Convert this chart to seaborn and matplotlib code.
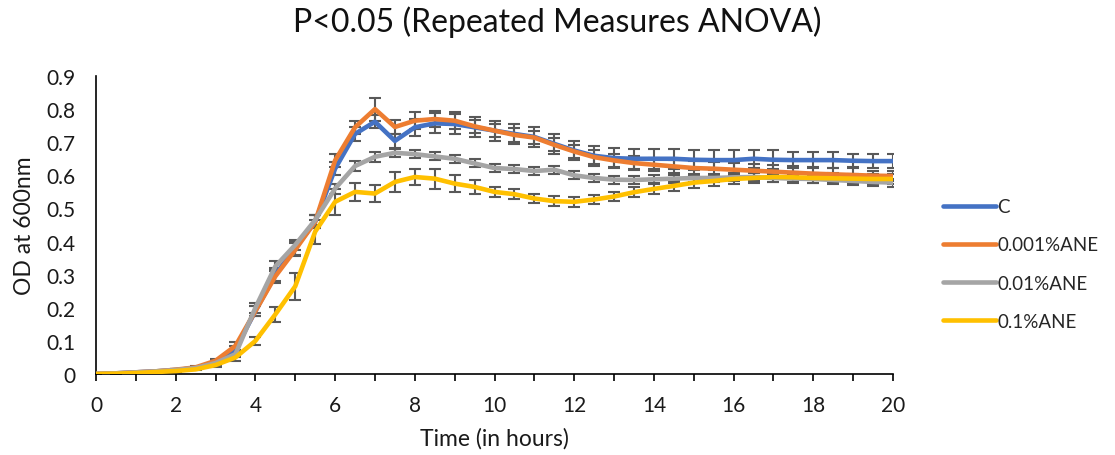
import numpy as np
import pandas as pd
import seaborn as sns
import matplotlib
matplotlib.use("Agg")
import matplotlib.pyplot as plt

hours = [i * 0.5 for i in range(41)]

od_c = [0, 0.002, 0.005, 0.008, 0.012, 0.018, 0.035, 0.075, 0.19, 0.30, 0.38, 0.46, 0.62, 0.725, 0.762,
        0.704, 0.745, 0.757, 0.755, 0.745, 0.735, 0.725, 0.716, 0.695, 0.675, 0.659, 0.652, 0.65, 0.65,
        0.65, 0.647, 0.646, 0.646, 0.65, 0.647, 0.646, 0.646, 0.646, 0.644, 0.643, 0.643]
od_001 = [0, 0.002, 0.005, 0.008, 0.013, 0.02, 0.04, 0.085, 0.19, 0.295, 0.375, 0.46, 0.645, 0.745, 0.80,
          0.746, 0.765, 0.77, 0.765, 0.748, 0.735, 0.722, 0.714, 0.692, 0.672, 0.655, 0.645, 0.637, 0.632,
          0.627, 0.622, 0.62, 0.617, 0.614, 0.611, 0.608, 0.605, 0.603, 0.601, 0.599, 0.598]
od_01 = [0, 0.002, 0.005, 0.008, 0.012, 0.018, 0.033, 0.06, 0.20, 0.325, 0.39, 0.465, 0.56, 0.628, 0.656,
         0.668, 0.664, 0.657, 0.65, 0.636, 0.622, 0.619, 0.613, 0.617, 0.60, 0.592, 0.587, 0.586, 0.588,
         0.59, 0.592, 0.592, 0.594, 0.595, 0.592, 0.59, 0.589, 0.586, 0.583, 0.58, 0.578]
od_1 = [0, 0.001, 0.003, 0.006, 0.009, 0.014, 0.027, 0.05, 0.10, 0.18, 0.265, 0.43, 0.52, 0.55, 0.545,
        0.58, 0.595, 0.59, 0.575, 0.565, 0.55, 0.543, 0.53, 0.522, 0.52, 0.527, 0.536, 0.549, 0.559,
        0.568, 0.578, 0.583, 0.589, 0.592, 0.595, 0.594, 0.592, 0.591, 0.59, 0.589, 0.589]

err_c = [0, 0, 0, 0, 0.002, 0.003, 0.005, 0.01, 0.015, 0.02, 0.02, 0.02, 0.02, 0.02, 0.02,
         0.02, 0.025, 0.03, 0.03, 0.03, 0.03, 0.03, 0.03, 0.03, 0.03, 0.03, 0.03, 0.03, 0.03,
         0.03, 0.03, 0.03, 0.03, 0.028, 0.028, 0.025, 0.025, 0.025, 0.02, 0.02, 0.02]
err_001 = [0, 0, 0, 0, 0.002, 0.003, 0.005, 0.012, 0.015, 0.02, 0.02, 0.02, 0.02, 0.02, 0.035,
           0.02, 0.025, 0.025, 0.025, 0.02, 0.02, 0.02, 0.02, 0.02, 0.02, 0.02, 0.02, 0.02, 0.02,
           0.02, 0.02, 0.02, 0.02, 0.02, 0.02, 0.02, 0.02, 0.02, 0.02, 0.015, 0.015]
err_01 = [0, 0, 0, 0, 0.002, 0.003, 0.005, 0.01, 0.015, 0.015, 0.015, 0.015, 0.015, 0.015, 0.015,
          0.012, 0.012, 0.012, 0.012, 0.012, 0.012, 0.012, 0.012, 0.012, 0.012, 0.012, 0.012, 0.012, 0.012,
          0.012, 0.012, 0.012, 0.012, 0.012, 0.012, 0.012, 0.012, 0.012, 0.012, 0.012, 0.012]
err_1 = [0, 0, 0, 0, 0.002, 0.003, 0.005, 0.01, 0.012, 0.023, 0.04, 0.036, 0.04, 0.028, 0.026,
         0.03, 0.025, 0.03, 0.025, 0.02, 0.015, 0.015, 0.015, 0.015, 0.015, 0.015, 0.015, 0.015, 0.015,
         0.015, 0.015, 0.015, 0.015, 0.015, 0.015, 0.015, 0.015, 0.015, 0.015, 0.015, 0.015]

series = ["C", "0.001%ANE", "0.01%ANE", "0.1%ANE"]
colors = ["#4472C4", "#ED7D31", "#A5A5A5", "#FFC000"]

df = pd.DataFrame({
    "Time": hours * 4,
    "OD": od_c + od_001 + od_01 + od_1,
    "Err": err_c + err_001 + err_01 + err_1,
    "Group": [s for s in series for _ in hours],
})

sns.set_theme(style="white")
plt.rcParams["font.family"] = ["Lato", "DejaVu Sans"]

fig = plt.figure(figsize=(11.15, 4.56), dpi=100)
ax = fig.add_axes([96 / 1115, 1 - 375 / 456, (893 - 96) / 1115, (375 - 77) / 456])

for s in series:
    sub = df[df["Group"] == s]
    ax.errorbar(sub["Time"], sub["OD"], yerr=sub["Err"], fmt="none", ecolor="#595959",
                elinewidth=1.5, capsize=4, capthick=1.5, zorder=2)

sns.lineplot(data=df, x="Time", y="OD", hue="Group", hue_order=series,
             palette=colors, linewidth=3.3, ax=ax, zorder=3, errorbar=None)

ax.set_xlim(0, 20)
ax.set_ylim(0, 0.9)
ax.set_xticks(range(0, 21, 2))
ax.set_xticks(range(1, 21, 2), minor=True)
ax.set_yticks([i / 10 for i in range(10)])
ax.set_yticklabels(["0"] + [f"{i / 10:.1f}" for i in range(1, 10)])
ax.tick_params(axis="x", which="both", direction="out", length=5, width=1.2, colors="black",
               labelsize=15, labelcolor="#1a1a1a", bottom=True, pad=10)
ax.tick_params(axis="y", length=0, labelsize=15, labelcolor="#1a1a1a", pad=15)
for sp in ["top", "right"]:
    ax.spines[sp].set_visible(False)
for sp in ["left", "bottom"]:
    ax.spines[sp].set_color("black")
    ax.spines[sp].set_linewidth(1.2)

ax.set_xlabel("Time (in hours)", fontsize=16.5, color="#1a1a1a", labelpad=9)
ax.set_ylabel("OD at 600nm", fontsize=16.5, color="#1a1a1a", labelpad=8)
fig.suptitle("P<0.05 (Repeated Measures ANOVA)", fontsize=23, color="#111111", x=0.5, y=0.985)

ax.legend(frameon=False, loc="center left", bbox_to_anchor=(943 / 1115, 1 - 265 / 456),
          bbox_transform=fig.transFigure, borderaxespad=0, borderpad=0, fontsize=13.5,
          handlelength=2.8, handletextpad=0.1, labelspacing=1.13)

fig.savefig("out.png", dpi=100)
